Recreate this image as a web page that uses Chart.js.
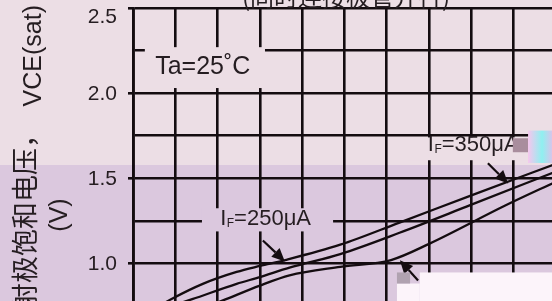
<!DOCTYPE html>
<html><head><meta charset="utf-8">
<script src="https://cdn.jsdelivr.net/npm/chart.js@4.4.1/dist/chart.umd.min.js"></script>
<style>
html,body{margin:0;padding:0;overflow:hidden;width:552px;height:301px;}
body{background:linear-gradient(to bottom,#ecdee5 0px,#ecdee5 165px,#dbc8de 165px,#dbc8de 301px);}
#wrap{position:absolute;left:0;top:0;width:556px;height:306px;}
</style></head><body>
<div id="wrap"><canvas id="c" width="556" height="306"></canvas></div>
<script>
// ---- data ----
const yTickValues = [2.5, 2.0, 1.5, 1.0];
const yTickLabels = ['2.5', '2.0', '1.5', '1.0'];
const curveAX = [0.4, 0.9, 1.65, 2.45, 3.0, 3.6, 4.9, 6.3, 8.0, 10];
const curveAY = [0.72, 0.79, 0.88, 0.95, 0.985, 1.02, 1.11, 1.24, 1.40, 1.585];
const curveBX = [0.55, 1.4, 2.45, 3.0, 3.7, 4.9, 6.3, 8.0, 10];
const curveBY = [0.72, 0.79, 0.88, 0.92, 0.975, 1.055, 1.18, 1.345, 1.54];
const curveCX = [1.5, 2.2, 3.0, 3.7, 4.9, 6.1, 7.0, 8.8, 10];
const curveCY = [0.72, 0.79, 0.87, 0.93, 0.98, 1.02, 1.115, 1.34, 1.48];
const titleText = '(同时连接极管并行)';
const axisTitleCJK = '集电极-发射极饱和电压，';
const axisTitleLatin = 'VCE(sat)';
const axisTitleLine2 = '(V)';
const tempLabel = 'Ta=25˚C';
const label250 = ['I', 'F', '=250μA'];
const label350 = ['I', 'F', '=350μA'];

const INK = '#140c10';
const TXT = '#251d21';
const PINK = '#ecdee5';
const PURP = '#dbc8de';
const FONT = '"Liberation Sans", Arial, sans-serif';
const CJK = '"Noto Sans CJK SC", sans-serif';

function pts(xs, ys){ return xs.map((x,i)=>({x:x, y:ys[i]})); }

function drawArrow(ctx, x1, y1, x2, y2){
  const ang = Math.atan2(y2-y1, x2-x1);
  const L = 13, W = 6;
  const bx = x2 - L*Math.cos(ang), by = y2 - L*Math.sin(ang);
  ctx.save();
  ctx.strokeStyle = INK; ctx.fillStyle = INK; ctx.lineWidth = 2.2;
  ctx.beginPath(); ctx.moveTo(x1,y1); ctx.lineTo(bx,by); ctx.stroke();
  ctx.beginPath();
  ctx.moveTo(x2,y2);
  ctx.lineTo(bx - W*Math.sin(ang), by + W*Math.cos(ang));
  ctx.lineTo(bx + W*Math.sin(ang), by - W*Math.cos(ang));
  ctx.closePath(); ctx.fill();
  ctx.restore();
}
function drawSubLabel(ctx, parts, px, py){
  ctx.save();
  ctx.fillStyle = TXT; ctx.textBaseline = 'middle'; ctx.textAlign = 'left';
  ctx.font = '22px ' + FONT;
  ctx.fillText(parts[0], px, py);
  let x = px + ctx.measureText(parts[0]).width + 0.5;
  ctx.font = '12px ' + FONT;
  ctx.fillText(parts[1], x, py + 4);
  x += ctx.measureText(parts[1]).width;
  ctx.font = '22px ' + FONT;
  ctx.fillText(parts[2], x, py);
  ctx.restore();
}

const annot = {
  id: 'annot',
  beforeDatasetsDraw(chart){
    const {ctx, scales:{x, y}} = chart;
    const X = v => x.getPixelForValue(v), Y = v => y.getPixelForValue(v);
    ctx.save();
    ctx.fillStyle = PINK;
    ctx.fillRect(X(0.28), Y(2.27), X(3.12)-X(0.28), Y(2.03)-Y(2.27));
    ctx.fillRect(X(6.5), Y(1.74), X(10)-X(6.5), Y(1.606)-Y(1.74));
    ctx.fillStyle = PURP;
    ctx.fillRect(X(1.63), Y(1.324), X(4.73)-X(1.63), Y(1.188)-Y(1.324));
    ctx.fillStyle = TXT; ctx.font = '25px ' + FONT;
    ctx.textAlign = 'center'; ctx.textBaseline = 'middle';
    ctx.fillText(tempLabel, X(1.65), Y(2.153));
    ctx.restore();
    drawSubLabel(ctx, label250, X(2.06), Y(1.259));
    drawSubLabel(ctx, label350, X(6.97), Y(1.694));
    ctx.save();
    ctx.fillStyle = '#a98d9d';
    ctx.fillRect(X(8.98), Y(1.735), X(9.34)-X(8.98), Y(1.653)-Y(1.735));
    const g = ctx.createLinearGradient(X(9.34),0,X(10),0);
    g.addColorStop(0,'#f6c6ee'); g.addColorStop(0.5,'#8ff0f0'); g.addColorStop(1,'#f3b5e9');
    ctx.fillStyle = g;
    ctx.fillRect(X(9.34), Y(1.78), X(10)-X(9.34), Y(1.59)-Y(1.78));
    ctx.restore();
  },
  afterDatasetsDraw(chart){
    const {ctx, scales:{x, y}} = chart;
    const X = v => x.getPixelForValue(v), Y = v => y.getPixelForValue(v);
    drawArrow(ctx, X(3.07), Y(1.135), X(3.59), Y(1.012));
    drawArrow(ctx, X(8.39), Y(1.588), X(8.87), Y(1.47));
    drawArrow(ctx, X(6.74), Y(0.90), X(6.31), Y(1.018));
    ctx.save();
    ctx.fillStyle = '#fcf4fa';
    ctx.fillRect(X(6.78), Y(0.947), X(10)-X(6.78), Y(0.75)-Y(0.947));
    ctx.fillRect(X(6.24), Y(0.882), X(6.78)-X(6.24), Y(0.75)-Y(0.882));
    ctx.fillStyle = '#b0a2b0';
    ctx.fillRect(X(6.24), Y(0.947), X(6.55)-X(6.24), Y(0.882)-Y(0.947));
    ctx.restore();
  },
  afterDraw(chart){
    const {ctx, scales:{y}} = chart;
    ctx.save();
    ctx.fillStyle = TXT;
    ctx.font = '21px ' + FONT;
    ctx.textAlign = 'right'; ctx.textBaseline = 'middle';
    yTickValues.forEach((v,i)=>{
      const off = (v === y.max) ? 9 : 1;
      ctx.fillText(yTickLabels[i], 117, y.getPixelForValue(v) + off);
    });
    ctx.font = '24px ' + CJK;
    ctx.textAlign = 'center'; ctx.textBaseline = 'alphabetic';
    ctx.fillText(titleText, 346, 6);
    // rotated y-axis title
    ctx.save();
    ctx.translate(41, 5); ctx.rotate(-Math.PI/2);
    ctx.textAlign = 'right'; ctx.textBaseline = 'alphabetic';
    ctx.font = '25px ' + FONT;
    ctx.fillText(axisTitleLatin, 0, 0);
    ctx.restore();
    ctx.save();
    ctx.translate(35, 121); ctx.rotate(-Math.PI/2);
    ctx.textAlign = 'right'; ctx.textBaseline = 'alphabetic';
    ctx.font = '27px ' + CJK;
    ctx.fillText(axisTitleCJK, 0, 0);
    ctx.restore();
    ctx.save();
    ctx.translate(67, 215); ctx.rotate(-Math.PI/2);
    ctx.textAlign = 'center'; ctx.textBaseline = 'alphabetic';
    ctx.font = '25px ' + FONT;
    ctx.fillText(axisTitleLine2, 0, 0);
    ctx.restore();
    ctx.restore();
  }
};

const ds = (xs, ys) => ({
  data: pts(xs, ys), borderColor: INK, borderWidth: 2.3, pointRadius: 0,
  fill: false, cubicInterpolationMode: 'monotone'
});

new Chart(document.getElementById('c'), {
  type: 'line',
  data: { datasets: [ds(curveAX, curveAY), ds(curveBX, curveBY), ds(curveCX, curveCY)] },
  options: {
    responsive: false, animation: false, devicePixelRatio: 1,
    layout: { padding: { top: 8, left: 0, right: 0, bottom: 0 } },
    plugins: { legend: { display: false }, tooltip: { enabled: false } },
    scales: {
      x: { type: 'linear', min: 0, max: 10,
           ticks: { display: false, stepSize: 1 },
           grid: { color: INK, lineWidth: 2.6, drawTicks: false },
           border: { display: false },
           afterFit(s){ s.height = 0; } },
      y: { type: 'linear', min: 0.75, max: 2.5,
           ticks: { display: false, stepSize: 0.25 },
           grid: { color: INK, lineWidth: 2.6, tickLength: 5,
                   tickColor: c => (c.tick && Math.abs(c.tick.value*2 - Math.round(c.tick.value*2)) < 1e-6) ? INK : 'rgba(0,0,0,0)' },
           border: { color: INK, width: 2.8 },
           afterFit(s){ s.width = 133; } }
    }
  },
  plugins: [annot]
});
</script>
</body></html>
